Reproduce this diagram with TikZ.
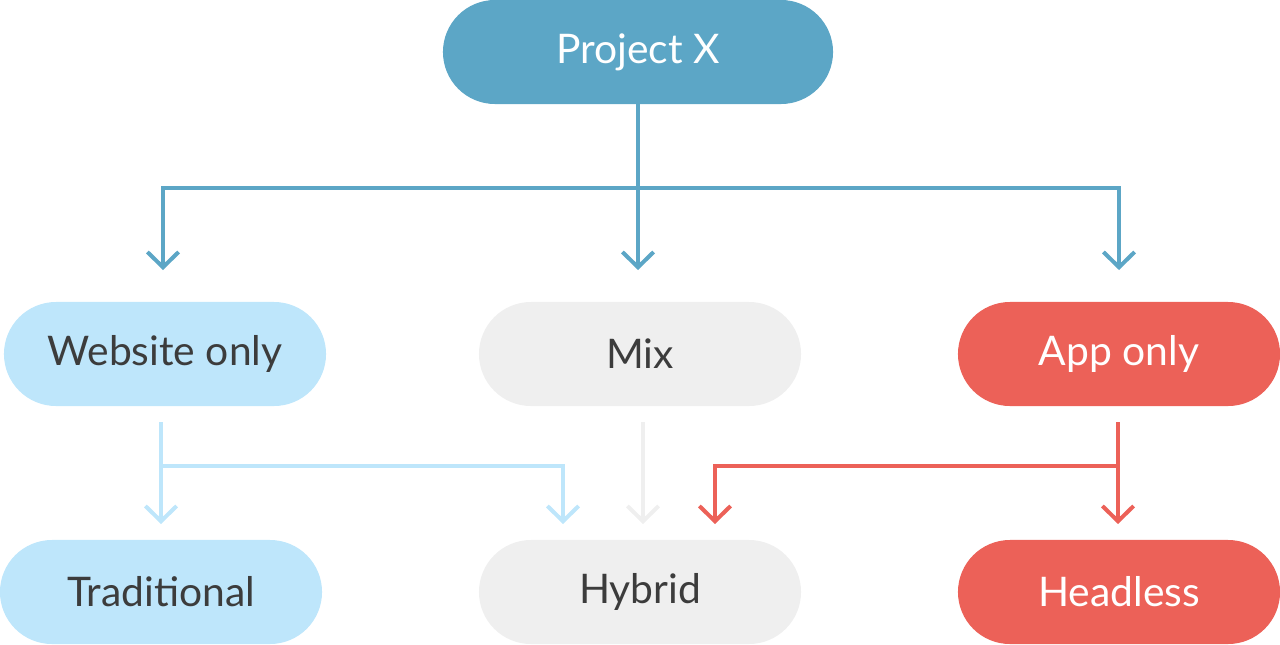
\documentclass[tikz,border=0pt]{standalone}
\usepackage{fontspec}
\setmainfont{Lato}
\usetikzlibrary{arrows.meta,positioning}

\definecolor{topblue}{HTML}{5CA6C6}
\definecolor{lightblue}{HTML}{BEE6FB}
\definecolor{lightgray}{HTML}{EFEFEF}
\definecolor{appred}{HTML}{EC6158}
\definecolor{darktext}{HTML}{3C3C3C}

\begin{document}
\begin{tikzpicture}[x=0.025cm,y=-0.025cm,
  pill/.style={rounded corners=1.3cm, minimum width=8.05cm, minimum height=2.6cm,
    inner sep=0pt, font=\fontsize{29}{33}\selectfont},
  link/.style={line width=4*0.025cm, -{Straight Barb[length=0.38cm,width=0.78cm,line width=4*0.025cm]}},
  joint/.style={line width=4*0.025cm}]

\useasboundingbox (0,0) rectangle (1280,644);

% top node
\node [pill, fill=topblue, text=white, minimum width=9.75cm] (project) at (638,52) {Project X};

% middle row
\node [pill, fill=lightblue, text=darktext] (website) at (165,354) {Website only};
\node [pill, fill=lightgray, text=darktext] (mix) at (640,354) {Mix};
\node [pill, fill=appred, text=white] (app) at (1119,354) {App only};

% bottom row
\node [pill, fill=lightblue, text=darktext] (traditional) at (161,592) {Traditional};
\node [pill, fill=lightgray, text=darktext] (hybrid) at (640,592) {Hybrid};
\node [pill, fill=appred, text=white] (headless) at (1119,592) {Headless};

% junctions and arrow ends
\coordinate (split) at (638,188);
\coordinate (toweb) at (163,270);
\coordinate (tomix) at (638,270);
\coordinate (toapp) at (1119,270);

\coordinate (webfoot) at (161,422);
\coordinate (webbar) at (161,466);
\coordinate (totrad) at (161,524);
\coordinate (webhyb) at (563,524);
\coordinate (mixfoot) at (643,422);
\coordinate (mixhyb) at (643,524);
\coordinate (appfoot) at (1118,422);
\coordinate (appbar) at (1118,466);
\coordinate (tohead) at (1118,524);
\coordinate (apphyb) at (715,524);

% from Project X
\draw [joint, topblue] (project.south) -- (split);
\draw [link, topblue] (split) -| (toweb);
\draw [link, topblue] (split) -- (tomix);
\draw [link, topblue] (split) -| (toapp);

% from Website only
\draw [link, lightblue] (webfoot) -- (totrad);
\draw [link, lightblue] (webbar) -| (webhyb);

% from Mix
\draw [link, lightgray] (mixfoot) -- (mixhyb);

% from App only
\draw [link, appred] (appfoot) -- (tohead);
\draw [link, appred] (appbar) -| (apphyb);

\end{tikzpicture}
\end{document}
